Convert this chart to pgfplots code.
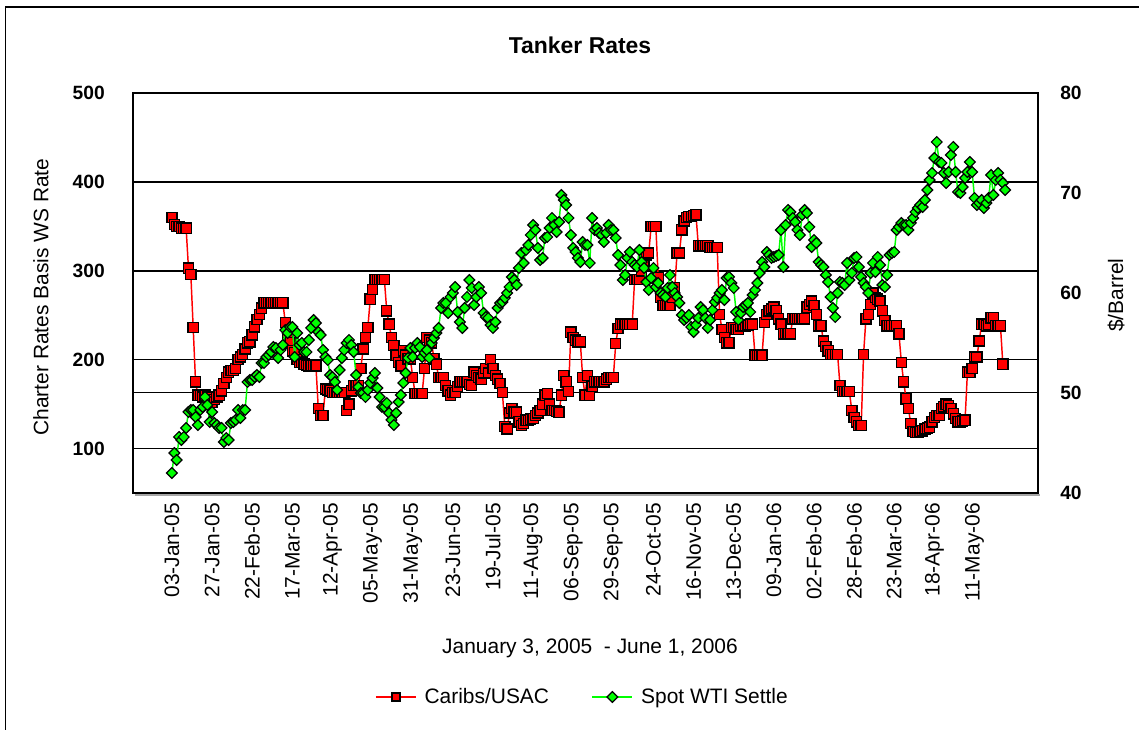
\documentclass[border=0pt]{standalone}
\usepackage{fontspec}
\setmainfont{Liberation Sans}
\usepackage{pgfplots}
\pgfplotsset{compat=1.18}
\definecolor{xlred}{RGB}{255,0,0}
\definecolor{xlgreen}{RGB}{0,255,0}
\newcommand{\regfont}{\fontsize{15.7}{18}\selectfont}
\newcommand{\tickfont}{\bfseries\fontsize{14.4}{16}\selectfont}
\newcommand{\titlefont}{\bfseries\fontsize{17.2}{20}\selectfont}
\pgfplotsset{
  common/.style={
    at={(99.75pt,177.75pt)}, anchor=south west, scale only axis,
    width=678.75pt, height=300pt,
    xmin=-16.5, xmax=366.9,
    major tick length=0pt,
    /pgf/number format/assume math mode=true,
  },
  redstyle/.style={color=xlred, line width=1.1pt, mark=square*, mark size=3.8pt,
    mark options={solid, fill=xlred, draw=black, line width=1pt}},
  greenstyle/.style={color=xlgreen, line width=1.1pt, mark=square*, mark size=2.85pt,
    mark options={solid, rotate=45, fill=xlgreen, draw=black, line width=0.9pt}},
}
\begin{document}
\begin{tikzpicture}
\path[use as bounding box] (0,0) rectangle (854.25pt,547.5pt);
\draw[line width=1pt] (4.1pt,0pt) -- (4.1pt,542.25pt) -- (854.25pt,542.25pt);
\begin{axis}[common,
  ymin=50, ymax=500,
  axis line style={line width=1.5pt},
  ytick={100,200,300,400,500},
  extra y ticks={163}, extra y tick labels={},
  extra y tick style={grid=major},
  ymajorgrids, grid style={black, line width=1.2pt},
  xtick={0,17,...,340},
  xticklabels={03-Jan-05,27-Jan-05,22-Feb-05,17-Mar-05,12-Apr-05,05-May-05,31-May-05,23-Jun-05,19-Jul-05,11-Aug-05,06-Sep-05,29-Sep-05,24-Oct-05,16-Nov-05,13-Dec-05,09-Jan-06,02-Feb-06,28-Feb-06,23-Mar-06,18-Apr-06,11-May-06},
  xticklabel style={yshift=-7.5pt, rotate=90, anchor=east, inner sep=0pt, font=\regfont},
  yticklabel style={anchor=east, inner sep=0pt, xshift=-21pt, font=\tickfont},
  ylabel={Charter Rates Basis WS Rate},
  ylabel style={at={(axis description cs:-0.1017,0.49)}, anchor=center, font=\regfont},
  xlabel={January 3, 2005~~- June 1, 2006},
  xlabel style={at={(axis description cs:0.505,-0.3875)}, anchor=center, font=\regfont},
  title={Tanker Rates},
  title style={at={(axis description cs:0.494,1.10)}, anchor=center, font=\titlefont},
]
\addplot[redstyle] coordinates {
(0,360)(1,352)(2,350)(3,350)(4,348)(5,348)(6,348)(7,303)(8,296)(9,236)
(10,175)(11,160)(12,160)(13,158)(14,160)(15,158)(16,155)(17,152)(18,155)(19,158)
(20,160)(21,165)(22,173)(23,180)(24,186)(25,188)(26,188)(27,190)(28,200)(29,203)
(30,206)(31,212)(32,219)(33,220)(34,228)(35,237)(36,245)(37,251)(38,258)(39,264)
(40,264)(41,264)(42,264)(43,264)(44,264)(45,264)(46,264)(47,264)(48,242)(49,230)
(50,219)(51,210)(52,208)(53,200)(54,197)(55,197)(56,195)(57,194)(58,193)(59,193)
(60,193)(61,193)(62,145)(63,137)(64,137)(65,167)(66,166)(67,165)(68,163)(69,163)
(70,163)(71,163)(72,163)(73,163)(74,143)(75,150)(76,165)(77,171)(78,171)(79,171)
(80,190)(81,212)(82,225)(83,236)(84,268)(85,279)(86,290)(87,290)(88,290)(89,290)
(90,290)(91,255)(92,240)(93,225)(94,216)(95,205)(96,197)(97,193)(98,210)(99,205)
(100,201)(101,201)(102,180)(103,162)(104,162)(105,162)(106,162)(107,190)(108,225)(109,222)
(110,219)(111,201)(112,195)(113,180)(114,180)(115,180)(116,171)(117,165)(118,160)(119,163)
(120,163)(121,170)(122,175)(123,175)(124,175)(125,175)(126,172)(127,171)(128,186)(129,182)
(130,180)(131,178)(132,185)(133,190)(134,185)(135,200)(136,190)(137,182)(138,178)(139,173)
(140,163)(141,125)(142,122)(143,140)(144,145)(145,141)(146,141)(147,130)(148,126)(149,128)
(150,132)(151,132)(152,133)(153,134)(154,137)(155,140)(156,143)(157,150)(158,160)(159,162)
(160,150)(161,143)(162,143)(163,142)(164,141)(165,160)(166,182)(167,175)(168,164)(169,231)
(170,225)(171,222)(172,220)(173,220)(174,180)(175,160)(176,182)(177,160)(178,170)(179,175)
(180,175)(181,175)(182,175)(183,175)(184,178)(185,180)(186,180)(187,180)(188,218)(189,235)
(190,240)(191,240)(192,240)(193,240)(194,240)(195,240)(196,290)(197,290)(198,290)(199,300)
(200,310)(201,318)(202,320)(203,350)(204,350)(205,350)(206,292)(207,270)(208,261)(209,261)
(210,261)(211,261)(212,270)(213,281)(214,320)(215,320)(216,346)(217,356)(218,360)(219,361)
(220,361)(221,362)(222,363)(223,328)(224,328)(225,328)(226,328)(227,328)(228,326)(229,326)
(230,326)(231,326)(232,251)(233,234)(234,225)(235,219)(236,219)(237,236)(238,236)(239,234)
(240,234)(241,238)(242,238)(243,238)(244,239)(245,240)(246,240)(247,205)(248,205)(249,205)
(250,205)(251,242)(252,251)(253,255)(254,257)(255,259)(256,255)(257,246)(258,240)(259,229)
(260,229)(261,229)(262,229)(263,246)(264,246)(265,246)(266,246)(267,246)(268,246)(269,259)
(270,262)(271,266)(272,261)(273,251)(274,238)(275,238)(276,221)(277,215)(278,210)(279,206)
(280,206)(281,206)(282,206)(283,171)(284,164)(285,164)(286,164)(287,164)(288,143)(289,135)
(290,130)(291,126)(292,126)(293,206)(294,246)(295,251)(296,262)(297,275)(298,270)(299,268)
(300,266)(301,255)(302,244)(303,238)(304,238)(305,238)(306,238)(307,238)(308,229)(309,197)
(310,175)(311,156)(312,145)(313,128)(314,119)(315,118)(316,118)(317,119)(318,120)(319,122)
(320,123)(321,124)(322,130)(323,135)(324,137)(325,137)(326,145)(327,147)(328,150)(329,148)
(330,145)(331,139)(332,134)(333,130)(334,130)(335,131)(336,132)(337,186)(338,186)(339,190)
(340,203)(341,203)(342,221)(343,240)(344,240)(345,238)(346,240)(347,247)(348,247)(349,238)
(350,238)(351,238)(352,195)
};
\end{axis}
\begin{axis}[common,
  ymin=40, ymax=80,
  axis y line*=right, axis x line=none,
  axis line style={line width=1.5pt},
  ytick={40,50,60,70,80},
  yticklabel style={anchor=west, inner sep=0pt, xshift=16.5pt, font=\tickfont},
  ylabel={\$/Barrel},
  ylabel style={at={(axis description cs:1.0862,0.495)}, anchor=center, font=\regfont},
  legend style={at={(axis description cs:0.497,-0.51)}, anchor=center, draw=none, fill=none,
    font=\regfont, legend columns=2,
    /tikz/every odd column/.append style={column sep=4pt},
    /tikz/every even column/.append style={column sep=30pt}},
  legend image code/.code={\draw[mark repeat=2, mark phase=2, #1] plot coordinates {(0pt,0pt) (15pt,0pt) (30pt,0pt)};},
]
\addlegendimage{redstyle, mark size=3pt}
\addlegendentry{Caribs/USAC}
\addplot[greenstyle] coordinates {
(0,42.0)(1,44.0)(2,43.3)(3,45.6)(4,45.3)(5,45.6)(6,46.5)(7,48.1)(8,48.3)(9,48.3)
(10,47.6)(11,46.8)(12,48.3)(13,48.6)(14,49.6)(15,48.8)(16,47.1)(17,48.1)(18,47.0)(19,46.8)
(20,46.5)(21,46.5)(22,45.1)(23,45.5)(24,45.3)(25,47.0)(26,47.1)(27,47.3)(28,48.3)(29,47.5)
(30,48.3)(31,48.3)(32,51.1)(33,51.3)(34,51.3)(35,51.6)(36,51.8)(37,51.6)(38,53.0)(39,53.0)
(40,53.6)(41,53.8)(42,54.1)(43,54.6)(44,54.5)(45,53.5)(46,54.3)(47,54.8)(48,56.3)(49,56.0)
(50,56.6)(51,56.6)(52,53.6)(53,56.0)(54,54.8)(55,55.0)(56,54.1)(57,54.1)(58,55.3)(59,56.5)
(60,57.3)(61,57.0)(62,56.1)(63,55.8)(64,54.3)(65,53.6)(66,53.3)(67,51.8)(68,51.6)(69,51.1)
(70,50.3)(71,52.3)(72,53.5)(73,54.3)(74,55.0)(75,55.3)(76,54.8)(77,54.1)(78,51.8)(79,50.6)
(80,50.0)(81,50.0)(82,49.6)(83,50.3)(84,51.0)(85,51.5)(86,52.0)(87,50.5)(88,49.6)(89,48.6)
(90,48.6)(91,49.0)(92,48.0)(93,47.3)(94,46.8)(95,48.0)(96,49.1)(97,49.8)(98,51.0)(99,52.0)
(100,53.5)(101,54.5)(102,53.6)(103,54.5)(104,55.0)(105,54.6)(106,53.6)(107,54.0)(108,54.3)(109,53.5)
(110,55.0)(111,55.5)(112,56.0)(113,56.5)(114,58.5)(115,59.0)(116,59.0)(117,58.0)(118,59.6)(119,60.0)
(120,60.6)(121,58.1)(122,57.1)(123,56.5)(124,58.5)(125,59.6)(126,61.3)(127,60.5)(128,58.8)(129,59.6)
(130,60.6)(131,60.0)(132,58.0)(133,57.6)(134,57.5)(135,56.8)(136,56.5)(137,57.1)(138,58.5)(139,59.0)
(140,59.1)(141,59.5)(142,60.0)(143,60.6)(144,61.6)(145,61.3)(146,60.8)(147,62.5)(148,64.0)(149,63.0)
(150,64.3)(151,64.8)(152,65.8)(153,66.8)(154,66.3)(155,64.5)(156,63.3)(157,63.5)(158,65.5)(159,65.6)
(160,66.5)(161,67.5)(162,66.8)(163,66.1)(164,67.1)(165,69.8)(166,69.3)(167,68.8)(168,67.5)(169,65.8)
(170,64.5)(171,64.1)(172,63.5)(173,63.1)(174,65.1)(175,64.8)(176,64.8)(177,63.0)(178,67.5)(179,66.3)
(180,66.5)(181,66.0)(182,65.8)(183,65.1)(184,66.0)(185,66.8)(186,66.3)(187,66.3)(188,65.5)(189,63.8)
(190,62.8)(191,61.3)(192,61.8)(193,63.5)(194,64.1)(195,63.1)(196,62.8)(197,62.6)(198,64.3)(199,63.1)
(200,62.5)(201,61.1)(202,60.3)(203,61.5)(204,62.5)(205,60.6)(206,61.0)(207,60.0)(208,59.8)(209,59.6)
(210,60.5)(211,61.8)(212,60.6)(213,60.0)(214,59.6)(215,59.0)(216,57.8)(217,57.3)(218,57.5)(219,57.8)
(220,56.6)(221,56.1)(222,56.8)(223,57.5)(224,58.6)(225,58.3)(226,57.5)(227,56.5)(228,57.3)(229,58.3)
(230,59.1)(231,59.5)(232,60.0)(233,60.3)(234,59.3)(235,61.5)(236,61.6)(237,61.0)(238,60.5)(239,58.1)
(240,57.3)(241,58.0)(242,58.6)(243,58.8)(244,59.0)(245,58.1)(246,59.8)(247,60.3)(248,61.0)(249,62.0)
(250,63.1)(251,62.6)(252,64.1)(253,63.8)(254,63.5)(255,63.6)(256,63.7)(257,63.8)(258,66.3)(259,62.6)
(260,66.8)(261,68.3)(262,68.1)(263,67.5)(264,67.1)(265,66.3)(266,65.8)(267,67.8)(268,68.3)(269,68.0)
(270,66.6)(271,64.6)(272,65.3)(273,65.0)(274,63.1)(275,62.8)(276,62.6)(277,61.8)(278,61.1)(279,59.6)
(280,58.5)(281,57.6)(282,60.0)(283,61.1)(284,61.0)(285,60.8)(286,63.0)(287,61.3)(288,62.0)(289,63.5)
(290,63.6)(291,62.6)(292,61.6)(293,61.0)(294,60.6)(295,60.0)(296,62.0)(297,63.0)(298,62.1)(299,63.6)
(300,62.8)(301,60.8)(302,60.6)(303,61.8)(304,63.8)(305,64.0)(306,64.1)(307,66.3)(308,66.6)(309,67.0)
(310,66.8)(311,66.8)(312,66.3)(313,67.0)(314,67.5)(315,68.1)(316,68.5)(317,68.8)(318,68.6)(319,69.3)
(320,70.3)(321,71.3)(322,72.0)(323,73.5)(324,75.1)(325,73.1)(326,73.0)(327,72.0)(328,71.0)(329,72.1)
(330,73.8)(331,74.6)(332,72.1)(333,70.1)(334,70.0)(335,70.6)(336,71.5)(337,72.1)(338,73.1)(339,72.1)
(340,69.5)(341,68.8)(342,69.0)(343,69.3)(344,68.5)(345,69.0)(346,69.5)(347,71.8)(348,69.8)(349,71.3)
(350,72.0)(351,71.3)(352,71.0)(353,70.3)
};
\addlegendentry{Spot WTI Settle}
\end{axis}
\draw[gray!70, line width=1.2pt] (101.25pt,176.2pt) -- (780pt,176.2pt);
\end{tikzpicture}
\end{document}
